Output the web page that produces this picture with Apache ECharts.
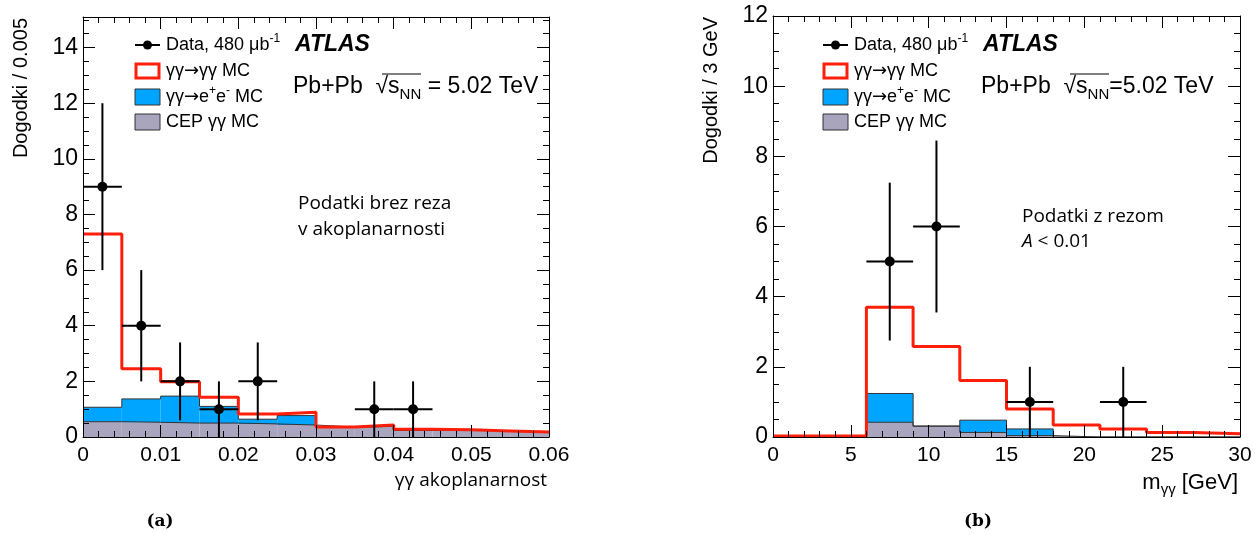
<!DOCTYPE html>
<html>
<head>
<meta charset="utf-8">
<script src="https://cdn.jsdelivr.net/npm/echarts@6/dist/echarts.min.js"></script>
<style>
html, body { margin: 0; padding: 0; background: #fff; }
#main { width: 1255px; height: 535px; }
</style>
</head>
<body>
<div id="main"></div>
<script>
// (a) yy akoplanarnost, bins of 0.005
var binsA = [0, 0.005, 0.01, 0.015, 0.02, 0.025, 0.03, 0.035, 0.04, 0.045, 0.05, 0.055];
var widthA = 0.005;
var gamA = [7.3, 2.45, 1.99, 1.43, 0.83, 0.89, 0.36, 0.43, 0.28, 0.26, 0.22, 0.18];
var cepA = [0.55, 0.53, 0.5, 0.5, 0.47, 0.43, 0.36, 0.38, 0.24, 0.24, 0.22, 0.18];
var eeA = [0.52, 0.84, 0.97, 0.6, 0.17, 0.34, 0, 0, 0, 0, 0, 0];
var ptsXA = [0.0025, 0.0075, 0.0125, 0.0175, 0.0225, 0.0375, 0.0425];
var ptsYA = [9, 4, 2, 1, 2, 1, 1];
var ptsErrA = [3, 2, 1.4, 1, 1.4, 1, 1];

// (b) m_yy, bins of 3 GeV
var binsB = [0, 3, 6, 9, 12, 15, 18, 21, 24, 27];
var widthB = 3;
var gamB = [0.03, 0.03, 3.7, 2.58, 1.61, 0.8, 0.34, 0.23, 0.13, 0.09];
var cepB = [0, 0, 0.42, 0.31, 0.13, 0.04, 0, 0, 0, 0];
var eeB = [0, 0, 0.82, 0, 0.35, 0.19, 0, 0, 0, 0];
var ptsXB = [7.5, 10.5, 16.5, 22.5];
var ptsYB = [5, 6, 1, 1];
var ptsErrB = [2.25, 2.45, 1, 1];

// axis ranges: min, max, major step, minor divisions
var xRangeA = [0, 0.06, 0.01, 5];
var yRangeA = [0, 15.1, 2, 4];
var xRangeB = [0, 30, 5, 5];
var yRangeB = [0, 12, 2, 4];

var RED = '#ff1e0a', BLUE = '#00a5ff', GREY = '#a9a5bf';

function stepPts(bins, w, vals) {
    var p = bins.map(function (x, i) { return [x, vals[i]]; });
    p.push([bins[bins.length - 1] + w, vals[vals.length - 1]]);
    return p;
}
function addUp(a, b) {
    return a.map(function (v, i) { return v + b[i]; });
}
function rects(bins, w, base, top) {
    return bins.map(function (x, i) { return [x, x + w, base[i], top[i]]; });
}
function points(xs, ys, es, hw) {
    return xs.map(function (x, i) { return [x, ys[i], es[i], hw]; });
}

function renderBin(params, api) {
    var a = api.coord([api.value(0), api.value(3)]);
    var b = api.coord([api.value(1), api.value(2)]);
    return {
        type: 'rect',
        shape: { x: a[0], y: a[1], width: b[0] - a[0], height: b[1] - a[1] },
        style: { fill: api.visual('color') }
    };
}
function renderPoint(params, api) {
    var x = api.value(0), y = api.value(1), e = api.value(2), h = api.value(3);
    var c = api.coord([x, y]);
    var lo = api.coord([x, Math.max(y - e, 0)]);
    var hi = api.coord([x, y + e]);
    var l = api.coord([x - h, y]);
    var r = api.coord([x + h, y]);
    return {
        type: 'group',
        children: [
            { type: 'line', shape: { x1: lo[0], y1: lo[1], x2: hi[0], y2: hi[1] }, style: { stroke: '#000', lineWidth: 2 } },
            { type: 'line', shape: { x1: l[0], y1: l[1], x2: r[0], y2: r[1] }, style: { stroke: '#000', lineWidth: 2 } },
            { type: 'circle', shape: { cx: c[0], cy: c[1], r: 5 }, style: { fill: '#000' } }
        ]
    };
}

// ROOT-like frame: axes on all four sides, ticks pointing inward
function axis(grid, range, pos, isX, labels, showMax, name, nameStyle) {
    var a = {
        type: 'value', gridIndex: grid, position: pos, z: 10,
        min: range[0], max: range[1], interval: range[2],
        axisLine: { show: true, onZero: false, lineStyle: { color: '#000', width: 1 } },
        axisTick: { show: true, inside: true, length: 12, lineStyle: { color: '#000', width: 1 } },
        minorTick: { show: true, splitNumber: range[3], length: 6, lineStyle: { color: '#000', width: 1 } },
        splitLine: { show: false },
        axisLabel: { show: labels, color: '#000', fontFamily: 'Liberation Sans',
            fontSize: isX ? 21 : 23, margin: isX ? 8 : 5, showMaxLabel: showMax,
            formatter: function (v) { return range[2] < 1 && v !== 0 ? v.toFixed(2) : String(v); } }
    };
    if (name) {
        a.name = name;
        a.nameLocation = 'end';
        a.nameMoveOverlap = false;
        a.nameGap = isX ? -2 : -1;
        a.nameRotate = isX ? 0 : 90;
        a.nameTextStyle = nameStyle;
    }
    return a;
}

var F = 'Liberation Sans';
var textRich = {
    sup: { fontSize: 12, verticalAlign: 'top', fontFamily: F },
    sub: { fontSize: 15, verticalAlign: 'bottom', fontFamily: F },
    ar: { fontSize: 18, fontFamily: 'DejaVu Sans' }
};

var yName = { color: '#000', fontFamily: F, fontSize: 20,
    align: 'right', verticalAlign: 'bottom', padding: [0, 0, 52, 0] };

function legendItems(dx, atlasX, ppText, ppX, ovl) {
    return [
        { type: 'line', shape: { x1: 135 + dx, y1: 45, x2: 160 + dx, y2: 45 }, style: { stroke: '#000', lineWidth: 2 } },
        { type: 'circle', shape: { cx: 147.5 + dx, cy: 45, r: 4.5 }, style: { fill: '#000' } },
        { type: 'text', x: 166 + dx, y: 45, style: { text: 'Data, 480 μb{sup|-1}', fontFamily: F, fontSize: 18,
            lineHeight: 24, fill: '#000', verticalAlign: 'middle', rich: textRich } },
        { type: 'text', x: atlasX, y: 45, style: { text: 'ATLAS', fontFamily: F, fontSize: 23, fontWeight: 'bold',
            fontStyle: 'italic', fill: '#000', verticalAlign: 'middle' } },
        { type: 'rect', shape: { x: 136 + dx, y: 64, width: 23, height: 14 }, style: { fill: '#fff', stroke: RED, lineWidth: 3 } },
        { type: 'text', x: 166 + dx, y: 71, style: { text: 'γγ{ar|→}γγ MC', fontFamily: F, fontSize: 18, lineHeight: 24,
            fill: '#000', verticalAlign: 'middle', rich: textRich } },
        { type: 'rect', shape: { x: 135 + dx, y: 89, width: 25, height: 16 }, style: { fill: BLUE, stroke: '#333', lineWidth: 1 } },
        { type: 'text', x: 166 + dx, y: 97, style: { text: 'γγ{ar|→}e{sup|+}e{sup|-} MC', fontFamily: F, fontSize: 18,
            lineHeight: 24, fill: '#000', verticalAlign: 'middle', rich: textRich } },
        { type: 'rect', shape: { x: 135 + dx, y: 114, width: 25, height: 16 }, style: { fill: GREY, stroke: '#333', lineWidth: 1 } },
        { type: 'text', x: 166 + dx, y: 122, style: { text: 'CEP γγ MC', fontFamily: F, fontSize: 18, fill: '#000', verticalAlign: 'middle' } },
        { type: 'text', x: ppX, y: 87, style: { text: ppText, fontFamily: F, fontSize: 23, lineHeight: 30,
            fill: '#000', verticalAlign: 'middle', rich: textRich } },
        { type: 'line', shape: { x1: ovl[0], y1: 74, x2: ovl[1], y2: 74 }, style: { stroke: '#000', lineWidth: 1 } }
    ];
}

var myChart = echarts.init(document.getElementById('main'));
var option = {
    animation: false,
    backgroundColor: '#fff',
    grid: [
        { left: 83, top: 17, width: 466, height: 420, containLabel: false, outerBoundsMode: 'none' },
        { left: 773, top: 16, width: 467, height: 421, containLabel: false, outerBoundsMode: 'none' }
    ],
    xAxis: [
        axis(0, xRangeA, 'bottom', true, true, true, 'γγ akoplanarnost',
            { color: '#000', fontFamily: 'Open Sans', fontSize: 19, align: 'right', verticalAlign: 'top', padding: [34, 0, 0, 0] }),
        axis(0, xRangeA, 'top', true, false, true),
        axis(1, xRangeB, 'bottom', true, true, true, 'm{sub|γγ} [GeV]',
            { color: '#000', fontFamily: F, fontSize: 22, lineHeight: 28, align: 'right', verticalAlign: 'top',
              padding: [32, 0, 0, 0], rich: textRich }),
        axis(1, xRangeB, 'top', true, false, true)
    ],
    yAxis: [
        axis(0, yRangeA, 'left', false, true, false, 'Dogodki / 0.005', yName),
        axis(0, yRangeA, 'right', false, false, false),
        axis(1, yRangeB, 'left', false, true, true, 'Dogodki / 3 GeV', yName),
        axis(1, yRangeB, 'right', false, false, true)
    ],
    graphic: [].concat(
        legendItems(0, 295, 'Pb+Pb  √s{sub|NN} = 5.02 TeV', 293, [382, 421]),
        legendItems(688, 983, 'Pb+Pb  √s{sub|NN}=5.02 TeV', 981, [1070, 1109]),
        [
            { type: 'text', x: 298, y: 191, style: { text: 'Podatki brez reza\nv akoplanarnosti', fontFamily: 'Open Sans',
                fontSize: 19, lineHeight: 26, fill: '#000' } },
            { type: 'text', x: 1022, y: 204, style: { text: 'Podatki z rezom\n{it|A} < 0.01', fontFamily: 'Open Sans',
                fontSize: 19, lineHeight: 25, fill: '#000',
                rich: { it: { fontStyle: 'italic', fontFamily: 'Open Sans', fontSize: 19 } } } },
            { type: 'text', x: 160, y: 522, style: { text: '(a)', fontFamily: 'DejaVu Serif', fontWeight: 'bold', fontSize: 17,
                fill: '#000', align: 'center', verticalAlign: 'middle' } },
            { type: 'text', x: 978, y: 522, style: { text: '(b)', fontFamily: 'DejaVu Serif', fontWeight: 'bold', fontSize: 17,
                fill: '#000', align: 'center', verticalAlign: 'middle' } }
        ]
    ),
    series: [
        // panel (a)
        { name: 'CEP γγ MC', type: 'custom', xAxisIndex: 0, yAxisIndex: 0, z: 2, color: GREY,
          renderItem: renderBin, encode: { x: [0, 1], y: [2, 3] },
          data: rects(binsA, widthA, binsA.map(function () { return 0; }), cepA) },
        { name: 'γγ→e+e- MC', type: 'custom', xAxisIndex: 0, yAxisIndex: 0, z: 2, color: BLUE,
          renderItem: renderBin, encode: { x: [0, 1], y: [2, 3] },
          data: rects(binsA, widthA, cepA, addUp(cepA, eeA)) },
        { type: 'line', xAxisIndex: 0, yAxisIndex: 0, z: 3, step: 'end', showSymbol: false,
          lineStyle: { color: '#333', width: 1 }, data: stepPts(binsA, widthA, cepA) },
        { type: 'line', xAxisIndex: 0, yAxisIndex: 0, z: 3, step: 'end', showSymbol: false,
          lineStyle: { color: '#333', width: 1 }, data: stepPts(binsA, widthA, addUp(cepA, eeA)) },
        { name: 'γγ→γγ MC', type: 'line', xAxisIndex: 0, yAxisIndex: 0, z: 5, step: 'end', showSymbol: false,
          lineStyle: { color: RED, width: 3 }, data: stepPts(binsA, widthA, gamA) },
        { name: 'Data', type: 'custom', xAxisIndex: 0, yAxisIndex: 0, z: 6, renderItem: renderPoint,
          encode: { x: 0, y: 1 }, data: points(ptsXA, ptsYA, ptsErrA, widthA / 2) },
        // panel (b)
        { name: 'CEP γγ MC', type: 'custom', xAxisIndex: 2, yAxisIndex: 2, z: 2, color: GREY,
          renderItem: renderBin, encode: { x: [0, 1], y: [2, 3] },
          data: rects(binsB, widthB, binsB.map(function () { return 0; }), cepB) },
        { name: 'γγ→e+e- MC', type: 'custom', xAxisIndex: 2, yAxisIndex: 2, z: 2, color: BLUE,
          renderItem: renderBin, encode: { x: [0, 1], y: [2, 3] },
          data: rects(binsB, widthB, cepB, addUp(cepB, eeB)) },
        { type: 'line', xAxisIndex: 2, yAxisIndex: 2, z: 3, step: 'end', showSymbol: false,
          lineStyle: { color: '#333', width: 1 }, data: stepPts(binsB, widthB, cepB) },
        { type: 'line', xAxisIndex: 2, yAxisIndex: 2, z: 3, step: 'end', showSymbol: false,
          lineStyle: { color: '#333', width: 1 }, data: stepPts(binsB, widthB, addUp(cepB, eeB)) },
        { name: 'γγ→γγ MC', type: 'line', xAxisIndex: 2, yAxisIndex: 2, z: 5, step: 'end', showSymbol: false,
          lineStyle: { color: RED, width: 3 }, data: stepPts(binsB, widthB, gamB) },
        { name: 'Data', type: 'custom', xAxisIndex: 2, yAxisIndex: 2, z: 6, renderItem: renderPoint,
          encode: { x: 0, y: 1 }, data: points(ptsXB, ptsYB, ptsErrB, widthB / 2) }
    ]
};
myChart.setOption(option);
</script>
</body>
</html>
